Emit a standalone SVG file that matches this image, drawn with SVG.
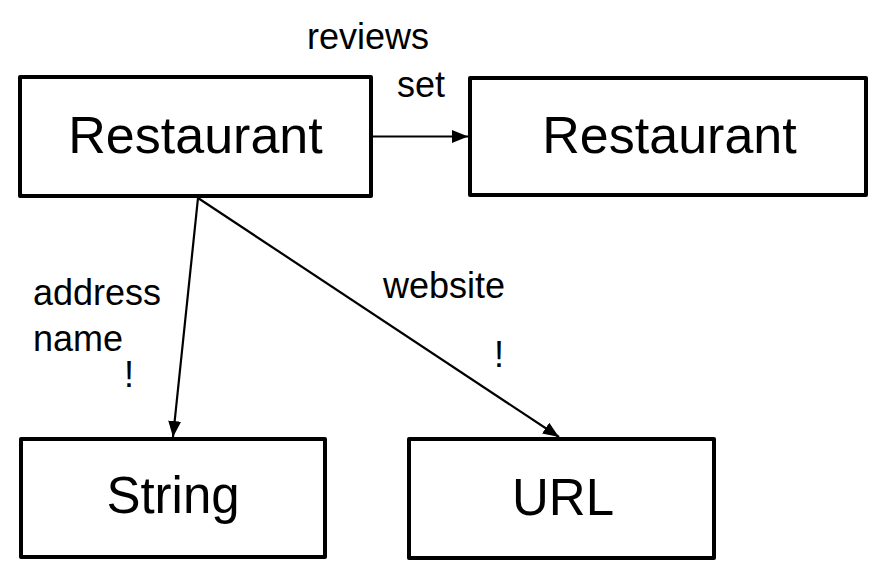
<svg xmlns="http://www.w3.org/2000/svg" width="888" height="582" viewBox="0 0 888 582">
<style>
.node rect{fill:#fff;stroke:#000;stroke-width:4;stroke-linejoin:round}
.node text{font-family:"Liberation Sans",Arial,sans-serif;fill:#000;text-anchor:middle}
.edge line{stroke:#000;stroke-width:2.2;fill:none}
.lbl{font-family:"Liberation Sans",Arial,sans-serif;font-size:36px;fill:#000}
</style>
<defs>
<marker id="arr" markerUnits="userSpaceOnUse" markerWidth="18" markerHeight="14" refX="16" refY="6.5" orient="auto">
<path d="M0,0 L16,6.5 L0,13 z" fill="#000"/>
</marker>
</defs>
<rect width="888" height="582" fill="#fff"/>
<g id="connectors" class="edge">
<line x1="373" y1="136.5" x2="468" y2="136.5" marker-end="url(#arr)"/>
<line x1="198" y1="198" x2="173" y2="437" marker-end="url(#arr)"/>
<line x1="198" y1="198" x2="559" y2="437" marker-end="url(#arr)"/>
</g>
<g id="node-restaurant-1" class="node">
<rect x="20" y="77" width="351" height="119"/>
<text x="195.5" y="153" font-size="52">Restaurant</text>
</g>
<g id="node-restaurant-2" class="node">
<rect x="470" y="78" width="396" height="117"/>
<text x="669.5" y="153" font-size="52">Restaurant</text>
</g>
<g id="node-string" class="node">
<rect x="21" y="439" width="304" height="118"/>
<text x="173" y="513" font-size="51">String</text>
</g>
<g id="node-url" class="node">
<rect x="409" y="439" width="305" height="119"/>
<text x="563" y="515" font-size="51">URL</text>
</g>
<g id="labels">
<text class="lbl" x="307" y="49">reviews</text>
<text class="lbl" x="397" y="97">set</text>
<text class="lbl" x="33" y="305">address</text>
<text class="lbl" x="33" y="351">name</text>
<text class="lbl" x="124" y="387">!</text>
<text class="lbl" x="383" y="298">website</text>
<text class="lbl" x="494" y="367">!</text>
</g>
</svg>
